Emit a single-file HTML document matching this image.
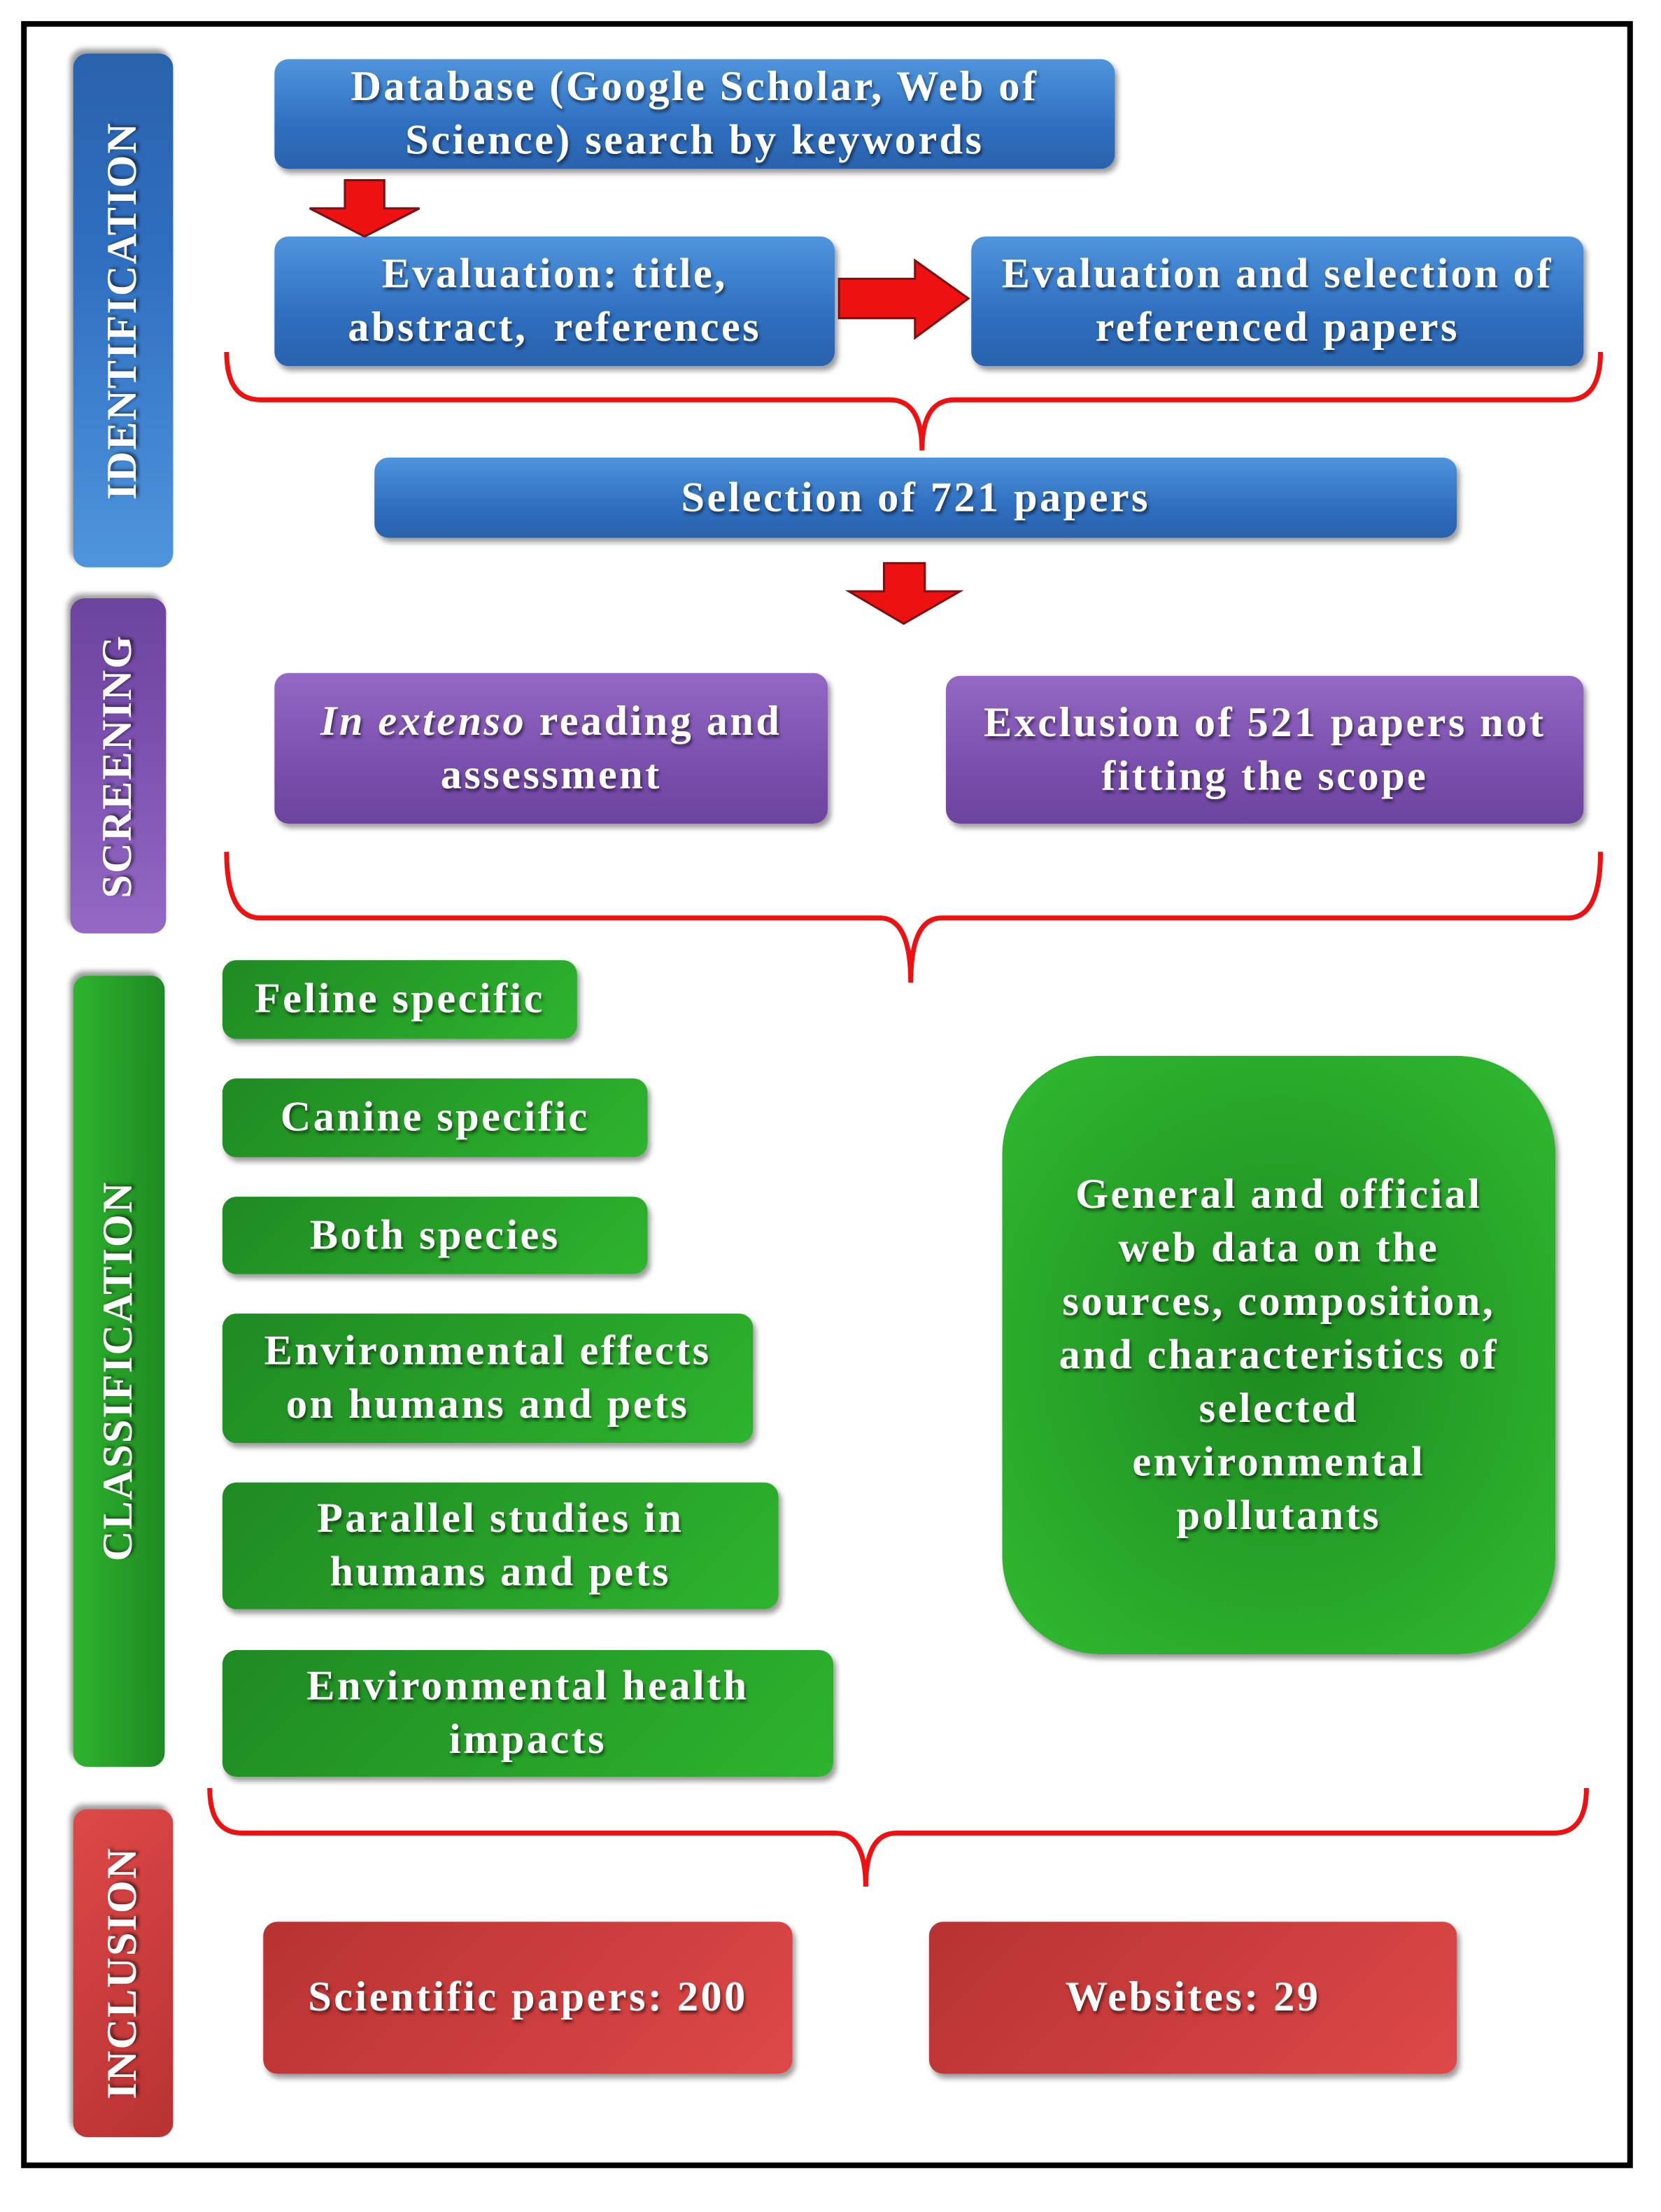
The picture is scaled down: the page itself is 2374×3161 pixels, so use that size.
<!DOCTYPE html>
<html><head><meta charset="utf-8"><style>
html,body{margin:0;padding:0;background:#fff;}
body{width:2374px;height:3160px;overflow:hidden;position:relative;}
#c{position:absolute;left:0;top:0;width:1180px;height:1571px;transform:scale(2.0119);transform-origin:0 0;}
.b{position:absolute;box-sizing:border-box;display:flex;align-items:center;justify-content:center;text-align:center;color:#fff;font-family:"Liberation Serif",serif;font-weight:bold;font-size:30px;letter-spacing:1.7px;line-height:38px;text-shadow:1px 2px 2px rgba(0,0,0,.55);border-radius:10px;box-shadow:2px 3px 4px rgba(0,0,0,.4);white-space:nowrap;}
.bl{background:linear-gradient(#4f95dd,#2f6fc0 60%,#2a62ad);}
.pu{background:linear-gradient(#9468c4,#7a4fae 60%,#6c449d);}
.gr{background:linear-gradient(135deg,#1f8a23,#2eb42e);}
.rd{background:linear-gradient(135deg,#b83232,#de4848);}
.v{writing-mode:vertical-rl;transform:rotate(180deg);font-size:30px;letter-spacing:1px;}
</style></head><body><div id="c">
<div style="position:absolute;left:15px;top:15px;width:1145px;height:1525px;border:4px solid #000;box-sizing:border-box;"></div>

<div class="b bl v" style="left:52px;top:38px;width:71px;height:365px;">IDENTIFICATION</div>
<div class="b pu v" style="left:50px;top:425px;width:68px;height:238px;">SCREENING</div>
<div class="b gr v" style="left:52px;top:693px;width:65px;height:562px;background:linear-gradient(90deg,#1f8a23,#2eb42e);">CLASSIFICATION</div>
<div class="b rd v" style="left:52px;top:1285px;width:71px;height:233px;">INCLUSION</div>

<div class="b bl" style="left:195px;top:42px;width:597px;height:78px;">Database (Google Scholar, Web of<br>Science) search by keywords</div>
<div class="b bl" style="left:195px;top:168px;width:398px;height:92px;">Evaluation: title,<br>abstract,&nbsp; references</div>
<div class="b bl" style="left:690px;top:168px;width:435px;height:92px;">Evaluation and selection of<br>referenced papers</div>
<div class="b bl" style="left:266px;top:325px;width:769px;height:57px;">Selection of 721 papers</div>

<div class="b pu" style="left:195px;top:478px;width:393px;height:107px;"><span><i>In extenso</i> reading and<br>assessment</span></div>
<div class="b pu" style="left:672px;top:480px;width:453px;height:105px;">Exclusion of 521 papers not<br>fitting the scope</div>

<div class="b gr" style="left:158px;top:682px;width:252px;height:56px;">Feline specific</div>
<div class="b gr" style="left:158px;top:766px;width:302px;height:56px;">Canine specific</div>
<div class="b gr" style="left:158px;top:850px;width:302px;height:55px;">Both species</div>
<div class="b gr" style="left:158px;top:933px;width:377px;height:92px;">Environmental effects<br>on humans and pets</div>
<div class="b gr" style="left:158px;top:1053px;width:395px;height:90px;">Parallel studies in<br>humans and pets</div>
<div class="b gr" style="left:158px;top:1172px;width:434px;height:90px;">Environmental health<br>impacts</div>
<div class="b" style="left:712px;top:750px;width:393px;height:425px;border-radius:70px;background:radial-gradient(ellipse at center,#1d8a20,#2fb52f 90%);">General and official<br>web data on the<br>sources, composition,<br>and characteristics of<br>selected<br>environmental<br>pollutants</div>

<div class="b rd" style="left:187px;top:1365px;width:376px;height:108px;">Scientific papers: 200</div>
<div class="b rd" style="left:660px;top:1365px;width:375px;height:108px;">Websites: 29</div>

<svg style="position:absolute;left:0;top:0" width="1180" height="1571">
<g fill="none" stroke="#ee1111" stroke-width="3.5">
<path d="M161,250 Q161,284 185,284 L632,284 Q655,284 655,320 Q655,284 678,284 L1114,284 Q1137,284 1137,250"/>
<path d="M161,605 Q161,652 185,652 L625,652 Q647,652 647,698 Q647,652 669,652 L1114,652 Q1137,652 1137,605"/>
<path d="M149,1270 Q149,1302 172,1302 L593,1302 Q615,1302 615,1340 Q615,1302 637,1302 L1104,1302 Q1127,1302 1127,1270"/>
</g>
<g fill="#ee1111" stroke="#7a1010" stroke-width="1.5">
<polygon points="245,128 273,128 273,148 298,148 259,168 220,148 245,148"/>
<polygon points="596,198 650,198 650,185 688,212 650,240 650,226 596,226"/>
<polygon points="628,400 657,400 657,420 682,420 642,443 603,420 628,420"/>
</g>
</svg>
</div></body></html>
